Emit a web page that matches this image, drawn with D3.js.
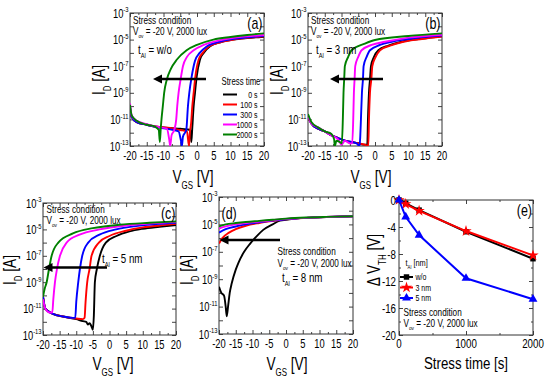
<!DOCTYPE html>
<html>
<head>
<meta charset="utf-8">
<script src="https://cdn.jsdelivr.net/npm/d3@7"></script>
<style>
  body { margin: 0; background: #fff; }
  svg { display: block; font-family: "Liberation Sans", Arial, sans-serif; }
</style>
</head>
<body>
<svg id="fig" width="550" height="379"></svg>
<script>
const VGS_TICKS = [-20, -15, -10, -5, 0, 5, 10, 15, 20];
const ID_LABEL_EXP = [-3, -5, -7, -9, -11, -13];
const STRESS_LABELS = ["0 s", "100 s", "300 s", "1000 s", "2000 s"];
const STRESS_COLORS = ["#000000", "#ff0000", "#0000ff", "#ff00ff", "#008000"];

// transfer curves, each point is [VGS (V), log10 ID (A)], order 0 s .. 2000 s
const curvesA = [
  [[-20,-10.2],[-19.5,-10.8],[-18,-11.2],[-15,-11.4],[-12,-11.55],[-8,-11.65],[-5,-11.7],[-3,-11.75],[-2,-11.8],[-1.7,-12.7],[-1.4,-11.6],[-1,-10],[-0.6,-9],[-0.1,-7.8],[0.9,-6.5],[2,-6.0],[3.9,-5.5],[7,-5.2],[10.8,-5.0],[15,-4.88],[20,-4.78]],
  [[-20,-10.1],[-19.5,-10.8],[-18,-11.2],[-15,-11.4],[-12,-11.55],[-8,-11.65],[-5,-11.8],[-3,-11.9],[-2.4,-13],[-2.1,-11.9],[-1.8,-11.4],[-1.4,-10],[-1,-9],[-0.5,-7.8],[0.5,-6.5],[1.7,-6.0],[3.6,-5.5],[7,-5.2],[11,-5.0],[15,-4.87],[20,-4.76]],
  [[-20,-10.0],[-19.5,-10.8],[-18,-11.2],[-15,-11.4],[-12,-11.6],[-8,-11.75],[-5.5,-11.9],[-4.8,-12.6],[-4.5,-13],[-4.2,-12.3],[-3.2,-11.8],[-2.7,-10],[-2.3,-9],[-1.6,-7.8],[-0.6,-6.6],[0.8,-6.0],[3,-5.5],[7,-5.15],[11,-4.95],[15,-4.83],[20,-4.72]],
  [[-20,-9.8],[-19.5,-10.7],[-18,-11.1],[-15,-11.35],[-12,-11.55],[-9,-11.7],[-8.3,-12.5],[-8,-13],[-7.6,-12.2],[-6.8,-11.8],[-6.2,-11],[-5.9,-10],[-5.5,-9],[-4.9,-8],[-4.2,-7],[-3,-6.3],[-1,-5.8],[2,-5.4],[6,-5.1],[10,-4.9],[15,-4.75],[20,-4.65]],
  [[-20,-9.9],[-19.5,-10.7],[-18,-11.1],[-15,-11.4],[-12.5,-11.55],[-11.4,-11.8],[-11.1,-12.7],[-10.8,-11.6],[-10.6,-11],[-10.2,-10],[-9.8,-9],[-9,-8],[-7.8,-7.2],[-6,-6.5],[-3.1,-5.8],[0,-5.4],[4.9,-5.0],[10,-4.8],[15,-4.65],[20,-4.53]]
];
const curvesB = [
  [[-20,-10.8],[-19,-11.3],[-17,-11.7],[-15,-11.9],[-13,-12.2],[-11,-12.4],[-9,-12.6],[-7,-12.7],[-5,-12.8],[-3.5,-12.9],[-2.3,-12.9],[-2.1,-11],[-1.8,-9],[-1.5,-8],[-1.2,-7],[-0.3,-6.3],[1,-5.8],[4,-5.45],[8,-5.16],[14,-4.93],[20,-4.75]],
  [[-20,-10.8],[-19,-11.3],[-17,-11.7],[-15,-11.9],[-13,-12.2],[-11,-12.4],[-9,-12.6],[-7,-12.7],[-5,-12.8],[-3,-12.9],[-2,-13],[-1.8,-11],[-1.5,-9],[-1.1,-8],[-0.8,-7],[0.2,-6.3],[1.5,-5.8],[4.5,-5.45],[8.5,-5.16],[14,-4.95],[20,-4.77]],
  [[-20,-10.7],[-19,-11.3],[-17,-11.7],[-15,-11.9],[-13,-12.2],[-11,-12.4],[-9,-12.6],[-7,-12.7],[-5.5,-12.8],[-4.6,-13],[-4.4,-12.3],[-4.2,-11],[-3.9,-9],[-3.6,-8],[-3.4,-7],[-2.5,-6.3],[-1.5,-5.8],[1.5,-5.4],[5,-5.16],[12,-4.88],[20,-4.7]],
  [[-20,-10.7],[-19,-11.3],[-17,-11.6],[-15,-11.9],[-13,-12.2],[-11,-12.5],[-10,-12.9],[-9,-12.6],[-7.5,-12.8],[-6.8,-12.8],[-6.5,-11],[-6.3,-9],[-6.1,-8],[-5.9,-7],[-5,-6.3],[-4,-5.8],[-1,-5.4],[3,-5.16],[10,-4.85],[20,-4.63]],
  [[-20,-10.6],[-19,-11.2],[-17,-11.6],[-15,-11.9],[-13,-12.1],[-12.2,-12.5],[-12,-13],[-11.5,-12.6],[-10.5,-12.7],[-9.9,-12.8],[-9.6,-11],[-9.4,-9],[-9.2,-8],[-9,-7],[-8,-6.3],[-7,-5.8],[-3,-5.3],[0,-5.03],[10,-4.73],[20,-4.53]]
];
const curvesC = [
  [[-20,-10.1],[-19.3,-11],[-17,-11.4],[-14,-11.6],[-10,-11.8],[-8,-11.95],[-7,-12.0],[-6.5,-12.2],[-6,-12.1],[-5.5,-12.3],[-5,-12.6],[-4.7,-11.5],[-4.4,-9],[-3.8,-8],[-2.9,-7],[-1.1,-6],[2.1,-5.5],[6,-5.15],[10,-4.95],[15,-4.8],[20,-4.67]],
  [[-20,-10.1],[-19.3,-11],[-17,-11.4],[-14,-11.6],[-10,-11.75],[-8,-11.8],[-7.5,-11.7],[-7.2,-10.5],[-6.7,-9],[-6,-8],[-5.4,-7],[-3.2,-6],[0,-5.5],[5,-5.1],[10,-4.85],[15,-4.7],[20,-4.58]],
  [[-20,-10.1],[-19.3,-11],[-17,-11.4],[-14,-11.6],[-11,-11.7],[-10.3,-11.7],[-10,-10.5],[-9.4,-9],[-8.9,-8],[-8.2,-7],[-6.4,-6],[-3,-5.4],[2,-5.0],[8,-4.75],[14,-4.6],[20,-4.5]],
  [[-20,-10.3],[-19.3,-11],[-18,-11.3],[-17.2,-11.3],[-16.9,-10.3],[-16.4,-9],[-15.8,-8],[-14.9,-7],[-12.9,-6],[-9,-5.4],[-3,-5.0],[5,-4.7],[12,-4.55],[20,-4.45]],
  [[-20,-10.1],[-19.5,-9.5],[-18.9,-9],[-18.2,-8],[-17.4,-7],[-15.4,-6],[-11,-5.3],[-5,-4.9],[3,-4.65],[12,-4.5],[20,-4.4]]
];
const curvesD = [
  [[-20,-9.55],[-19.3,-10],[-18.5,-10.2],[-18,-11],[-17.7,-11.7],[-17.3,-11],[-16.8,-10],[-16.2,-9.3],[-15,-8.3],[-14.2,-7.8],[-12.5,-7],[-10.7,-6.4],[-8.5,-5.8],[-6.8,-5.4],[-4,-5],[-1.8,-4.73],[2,-4.6],[8,-4.5],[14,-4.45],[20,-4.4]],
  [[-20,-6.4],[-19,-6],[-17,-5.6],[-15,-5.35],[-12,-5.1],[-8,-4.9],[-4,-4.75],[0,-4.62],[6,-4.52],[12,-4.46],[20,-4.4]],
  [[-20,-5.6],[-18,-5.35],[-15,-5.15],[-12,-5.0],[-8,-4.85],[-4,-4.72],[0,-4.62],[6,-4.52],[12,-4.46],[20,-4.4]],
  [[-20,-5.3],[-18,-5.15],[-15,-5.0],[-12,-4.9],[-8,-4.8],[-4,-4.7],[0,-4.6],[6,-4.52],[12,-4.46],[20,-4.4]],
  [[-20,-5.15],[-18,-5.0],[-15,-4.9],[-12,-4.82],[-8,-4.74],[-4,-4.66],[0,-4.58],[6,-4.5],[12,-4.45],[20,-4.4]]
];

// threshold shift vs stress time
const STRESS_SEC = [0, 100, 300, 1000, 2000];
const DVTH_WO = [0, -0.5, -1.5, -4.7, -8.7];
const DVTH_3NM = [0, -0.6, -1.6, -4.6, -8.2];
const DVTH_5NM = [0, -2.5, -5.2, -11.6, -14.7];
const TAL_LABELS = ["w/o", "3 nm", "5 nm"];
const TAL_COLORS = ["#000000", "#ff0000", "#0000ff"];
const DVTH_TICKS = [0, -4, -8, -12, -16, -20];
const TIME_TICKS = [0, 1000, 2000];

const svg = d3.select("#fig");
const NARROW = 0.78; // no condensed face installed, squeeze horizontally

// text with sub/superscripts; parts: "txt" or ["txt","sub"|"sup"]
function rich(g, x, y, parts, size, opts = {}) {
  const t = g.append("text")
    .attr("x", 0).attr("y", 0)
    .attr("font-size", size)
    .attr("text-anchor", opts.anchor || "start")
    .attr("fill", "#000")
    .attr("transform", `translate(${x},${y})${opts.rotate ? " rotate(-90)" : ""} scale(${NARROW},1)`);
  let shift = 0;
  parts.forEach((p) => {
    const [s, kind] = Array.isArray(p) ? p : [p, null];
    let target = 0;
    let fs = size;
    if (kind === "sub") { target = size * 0.32; fs = size * 0.58; }
    if (kind === "sup") { target = -size * 0.42; fs = size * 0.62; }
    t.append("tspan").attr("dy", target - shift).attr("font-size", fs).text(s);
    shift = target;
  });
  return t;
}

function arrow(g, x1, x2, y) {
  g.append("line").attr("x1", x1).attr("x2", x2 + 7).attr("y1", y).attr("y2", y)
    .attr("stroke", "#000").attr("stroke-width", 2.6);
  g.append("path")
    .attr("d", `M${x2},${y} L${x2 + 9},${y - 4.5} L${x2 + 9},${y + 4.5} Z`)
    .attr("fill", "#000");
}

function frame(g, box, x, y, xTicks, xMinor, yTicks, yMinor) {
  const fmt = () => "";
  const mk = (axis, vals, size, tr) =>
    g.append("g").attr("transform", tr)
      .call(axis.tickValues(vals).tickSizeInner(-size).tickSizeOuter(0).tickFormat(fmt))
      .call((a) => a.select(".domain").remove())
      .call((a) => a.selectAll("line").attr("stroke", "#444"));
  mk(d3.axisBottom(x), xTicks, 4, `translate(0,${box.y + box.h})`);
  mk(d3.axisBottom(x), xMinor, 2, `translate(0,${box.y + box.h})`);
  mk(d3.axisTop(x), xTicks, 4, `translate(0,${box.y})`);
  mk(d3.axisTop(x), xMinor, 2, `translate(0,${box.y})`);
  mk(d3.axisLeft(y), yTicks, 4, `translate(${box.x},0)`);
  mk(d3.axisLeft(y), yMinor, 2, `translate(${box.x},0)`);
  mk(d3.axisRight(y), yTicks, 4, `translate(${box.x + box.w},0)`);
  mk(d3.axisRight(y), yMinor, 2, `translate(${box.x + box.w},0)`);
  g.append("rect").attr("x", box.x).attr("y", box.y).attr("width", box.w).attr("height", box.h)
    .attr("fill", "none").attr("stroke", "#333").attr("stroke-width", 1);
}

function transferPanel(id, box, curves) {
  const g = svg.append("g");
  const x = d3.scaleLinear().domain([-20, 20]).range([box.x, box.x + box.w]);
  const y = d3.scaleLog().domain([1e-13, 1e-3]).range([box.y + box.h, box.y]);
  const decades = d3.range(-13, -2).map((e) => Math.pow(10, e));
  const minorV = d3.range(-17.5, 20, 5);
  frame(g, box, x, y, VGS_TICKS, minorV, decades, []);

  g.append("clipPath").attr("id", "clip-" + id).append("rect")
    .attr("x", box.x).attr("y", box.y).attr("width", box.w).attr("height", box.h);
  const line = d3.line()
    .x((d) => x(d[0]))
    .y((d) => y(Math.pow(10, d[1])))
    .curve(d3.curveMonotoneX);
  g.append("g").attr("clip-path", `url(#clip-${id})`)
    .selectAll("path").data(curves).join("path")
    .attr("d", line).attr("fill", "none")
    .attr("stroke", (d, i) => STRESS_COLORS[i]).attr("stroke-width", 1.9);

  VGS_TICKS.forEach((v) => {
    rich(g, x(v), box.y + box.h + 13.5, [String(v)], 12, { anchor: "middle" });
  });
  ID_LABEL_EXP.forEach((e) => {
    rich(g, box.x - 1.5, y(Math.pow(10, e)) + 4.5, ["10", [String(e), "sup"]], 12, { anchor: "end" });
  });
  return { g, x, y };
}

function conditionText(g, x, y, tal, talX, talY) {
  rich(g, x, y, ["Stress condition"], 10.5);
  rich(g, x, y + 11.5, ["V", ["ov", "sub"], " = -20 V, 2000 lux"], 10.5);
  rich(g, talX, talY, ["t", ["Al", "sub"], " = " + tal], 12.5);
}

// (a)
const pa = transferPanel("a", { x: 130, y: 13, w: 134, h: 133 }, curvesA);
conditionText(pa.g, 133, 23.5, "w/o", 138, 54);
rich(pa.g, 262.5, 28.5, ["(a)"], 16, { anchor: "end" });
arrow(pa.g, 206, 153, 79);
rich(pa.g, 221.5, 85, ["Stress time"], 10);
STRESS_LABELS.forEach((s, i) => {
  const yy = 94.5 + i * 10;
  pa.g.append("line").attr("x1", 223).attr("x2", 237).attr("y1", yy).attr("y2", yy)
    .attr("stroke", STRESS_COLORS[i]).attr("stroke-width", 2);
  rich(pa.g, 257.5, yy + 3.5, [s], 9, { anchor: "end" });
});
rich(svg, 105, 80, ["I", ["D", "sub"], " [A]"], 17.5, { anchor: "middle", rotate: true });
rich(svg, 193, 183, ["V", ["GS", "sub"], " [V]"], 17.5, { anchor: "middle" });

// (b)
const pb = transferPanel("b", { x: 308, y: 13, w: 134, h: 133 }, curvesB);
conditionText(pb.g, 311, 23.5, "3 nm", 316, 54);
rich(pb.g, 440.5, 28.5, ["(b)"], 16, { anchor: "end" });
arrow(pb.g, 383, 330, 79);
rich(svg, 283, 80, ["I", ["D", "sub"], " [A]"], 17.5, { anchor: "middle", rotate: true });
rich(svg, 371, 183, ["V", ["GS", "sub"], " [V]"], 17.5, { anchor: "middle" });

// (c)
const pc = transferPanel("c", { x: 43, y: 203, w: 133, h: 132 }, curvesC);
rich(pc.g, 46.5, 212.5, ["Stress condition"], 10.5);
rich(pc.g, 46.5, 224, ["V", ["ov", "sub"], " = -20 V, 2000 lux"], 10.5);
rich(pc.g, 102, 263, ["t", ["Al", "sub"], " = 5 nm"], 12.5);
rich(pc.g, 175.5, 218.5, ["(c)"], 16, { anchor: "end" });
arrow(pc.g, 107, 43.5, 267.5);
rich(svg, 16, 270, ["I", ["D", "sub"], " [A]"], 17.5, { anchor: "middle", rotate: true });
rich(svg, 113, 370, ["V", ["GS", "sub"], " [V]"], 17.5, { anchor: "middle" });

// (d)
const pd = transferPanel("d", { x: 219, y: 197, w: 134, h: 137 }, curvesD);
rich(pd.g, 221.5, 218.5, ["(d)"], 16);
arrow(pd.g, 280, 219.5, 240);
rich(pd.g, 277.5, 255, ["Stress condition"], 10.5);
rich(pd.g, 277.5, 266.5, ["V", ["ov", "sub"], " = -20 V, 2000 lux"], 10.5);
rich(pd.g, 282, 281.5, ["t", ["Al", "sub"], " = 8 nm"], 12.5);
rich(svg, 193, 270, ["I", ["D", "sub"], " [A]"], 17.5, { anchor: "middle", rotate: true });
rich(svg, 287, 370, ["V", ["GS", "sub"], " [V]"], 17.5, { anchor: "middle" });

// (e)
(function () {
  const box = { x: 399, y: 200, w: 134, h: 135 };
  const g = svg.append("g");
  const x = d3.scaleLinear().domain([0, 2000]).range([box.x, box.x + box.w]);
  const y = d3.scaleLinear().domain([-20, 0]).range([box.y + box.h, box.y]);
  frame(g, box, x, y, TIME_TICKS, [500, 1500], DVTH_TICKS, [-2, -6, -10, -14, -18]);

  const series = [DVTH_WO, DVTH_3NM, DVTH_5NM];
  const symbols = [d3.symbolSquare, d3.symbolStar, d3.symbolTriangle];
  const sizes = [30, 40, 34];
  const line = d3.line().x((d, i) => x(STRESS_SEC[i])).y((d) => y(d));
  series.forEach((s, k) => {
    g.append("path").datum(s).attr("d", line).attr("fill", "none")
      .attr("stroke", TAL_COLORS[k]).attr("stroke-width", 2);
    g.selectAll(null).data(s).join("path")
      .attr("transform", (d, i) => `translate(${x(STRESS_SEC[i])},${y(d)})`)
      .attr("d", d3.symbol().type(symbols[k]).size(sizes[k]))
      .attr("fill", TAL_COLORS[k]);
  });

  DVTH_TICKS.forEach((v) => {
    rich(g, box.x - 3, y(v) + 4.5, [String(v)], 12.5, { anchor: "end" });
  });
  TIME_TICKS.forEach((v) => {
    rich(g, x(v), box.y + box.h + 13, [String(v)], 12.5, { anchor: "middle" });
  });

  rich(g, 532, 215.5, ["(e)"], 16, { anchor: "end" });
  rich(g, 405.5, 266, ["t", ["Al", "sub"], " [nm]"], 9.5);
  TAL_LABELS.forEach((s, k) => {
    const yy = 277 + k * 10.5;
    g.append("line").attr("x1", 400).attr("x2", 413).attr("y1", yy).attr("y2", yy)
      .attr("stroke", TAL_COLORS[k]).attr("stroke-width", 2);
    g.append("path").attr("transform", `translate(406.5,${yy})`)
      .attr("d", d3.symbol().type(symbols[k]).size(sizes[k])).attr("fill", TAL_COLORS[k]);
    rich(g, 415.5, yy + 3.3, [s], 9);
  });
  rich(g, 403.5, 315.5, ["Stress condition"], 10.5);
  rich(g, 403.5, 327, ["V", ["ov", "sub"], " = -20 V, 2000 lux"], 10.5);

  rich(svg, 380, 260, ["Δ V", ["TH", "sub"], " [V]"], 17.5, { anchor: "middle", rotate: true });
  rich(svg, 466, 369, ["Stress time [s]"], 17, { anchor: "middle" });
})();
</script>
</body>
</html>
